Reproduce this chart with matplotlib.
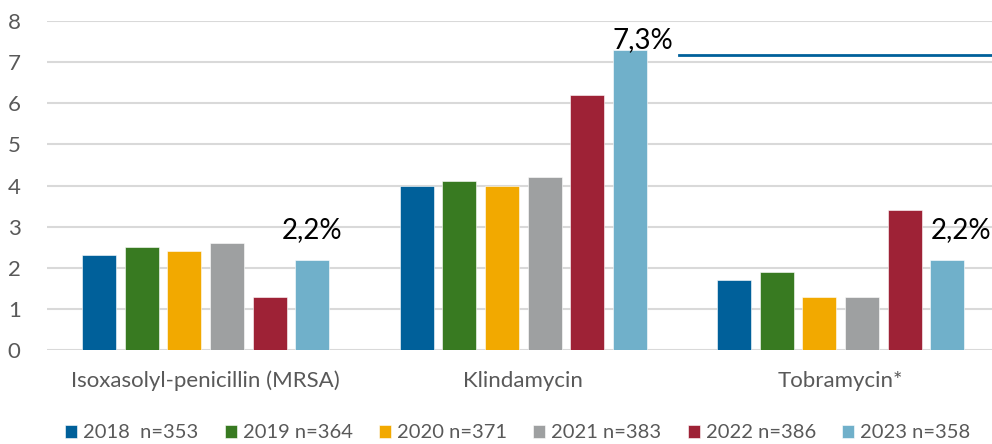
import numpy as np
import matplotlib
import matplotlib.pyplot as plt

matplotlib.use('Agg')

# data
categories = ["Isoxasolyl-penicillin (MRSA)", "Klindamycin", "Tobramycin*"]
series_labels = ["2018  n=353", "2019 n=364", "2020 n=371", "2021 n=383", "2022 n=386", "2023 n=358"]
v2018 = [2.3, 4.0, 1.7]
v2019 = [2.5, 4.1, 1.9]
v2020 = [2.4, 4.0, 1.3]
v2021 = [2.6, 4.2, 1.3]
v2022 = [1.3, 6.2, 3.4]
v2023 = [2.2, 7.3, 2.2]
labels_2023 = ["2,2%", "7,3%", "2,2%"]
ref_line_y = 7.18
ref_line_start = 1.49

colors = ['#00609A', '#387A21', '#F2A900', '#9EA0A1', '#9E2236', '#70B0CA']
series = [v2018, v2019, v2020, v2021, v2022, v2023]

plt.rcParams['font.family'] = ['Lato', 'DejaVu Sans']

fig = plt.figure(figsize=(9.92, 4.44), dpi=100)
ax = fig.add_axes([47 / 992, 1 - 350 / 444, 952.5 / 992, (350 - 21) / 444])

x = np.arange(len(categories))
step = 0.134
width = 0.107
for i, (vals, col, lab) in enumerate(zip(series, colors, series_labels)):
    ax.bar(x + (i - 2.5) * step, vals, width=width, color=col, label=lab,
           edgecolor='white', linewidth=0.4, zorder=3)

# manual value labels for 2023 (placed by hand in the original)
off = 2.5 * step
ax.text(x[0] + off, v2023[0] + 0.4, labels_2023[0], ha='center', va='bottom', fontsize=20, color='black')
ax.text(x[1] + off - width / 2, v2023[1] - 0.07, labels_2023[1], ha='left', va='bottom', fontsize=20,
        color='black', clip_on=False)
ax.text(x[2] + off - 0.05, v2023[2] + 0.4, labels_2023[2], ha='left', va='bottom', fontsize=20, color='black',
        clip_on=False)

ax.plot([ref_line_start, 2.6], [ref_line_y, ref_line_y], color='#00609A', linewidth=2, zorder=4, clip_on=False)

ax.set_xlim(-0.5, 2.5)
ax.set_ylim(0, 8)
ax.set_yticks(range(0, 9))
ax.set_xticks(x)
ax.set_xticklabels(categories)
ax.yaxis.grid(True, color='#D9D9D9', linewidth=1.5, zorder=0)
ax.set_axisbelow(True)
for s in ax.spines.values():
    s.set_visible(False)
ax.tick_params(axis='both', length=0, labelsize=16, colors='#595959')
ax.tick_params(axis='y', pad=19)
ax.tick_params(axis='x', pad=15)

fig.legend(loc='lower center', bbox_to_anchor=(0.522, -0.035), ncol=6, frameon=False,
           fontsize=14.5, handlelength=0.6, handleheight=0.6, handletextpad=0.3, columnspacing=1.3,
           labelcolor='#595959')

fig.savefig('out.png', dpi=100)
